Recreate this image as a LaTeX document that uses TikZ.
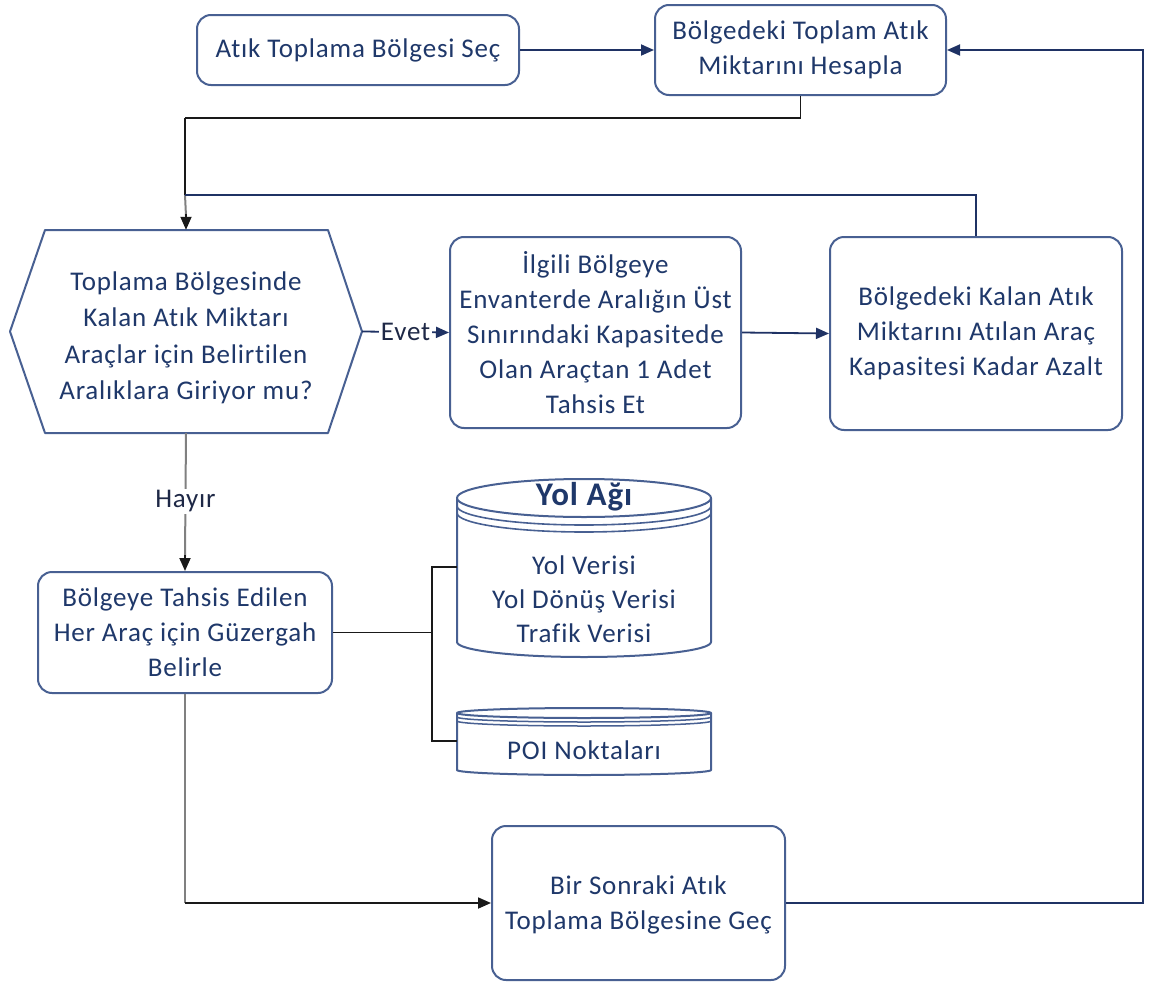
\documentclass[tikz,border=0pt]{standalone}
\usepackage{fontspec}
\setmainfont{Carlito}[LetterSpace=3, Ligatures=CommonOff]
\usetikzlibrary{arrows.meta}

\definecolor{edgeblue}{RGB}{72,96,146}
\definecolor{ink}{RGB}{31,56,106}
\definecolor{navy}{RGB}{31,50,100}
\definecolor{wire}{RGB}{25,25,25}
\definecolor{greywire}{RGB}{128,128,128}
\definecolor{labelink}{RGB}{30,40,70}

\tikzset{
  box/.style={draw=edgeblue, line width=2pt, rounded corners=14pt, align=center,
    text=ink, font=\fontsize{27}{35}\selectfont, inner sep=0pt},
  plaintext/.style={align=center, text=ink, font=\fontsize{27}{35}\selectfont, inner sep=0pt},
  shapeline/.style={draw=edgeblue, line width=2pt, line join=round},
  tip/.style={-{Triangle[length=13pt,width=11pt]}},
  navyline/.style={draw=navy, line width=1.8pt},
  blackline/.style={draw=wire, line width=1.8pt},
  greyline/.style={draw=greywire, line width=2pt},
  edgelabel/.style={fill=white, inner sep=1.5pt, text=labelink, font=\fontsize{27}{35}\selectfont}
}

\begin{document}
\begin{tikzpicture}[x=1pt,y=-1pt]
\useasboundingbox[fill=white] (0,0) rectangle (1152,985);

% process boxes
\node[box, minimum width=322pt, minimum height=70pt] (b1) at (358,50) {Atık Toplama Bölgesi Seç};
\node[box, minimum width=291pt, minimum height=90pt] (b2) at (800.5,50) {Bölgedeki Toplam Atık\\Miktarını Hesapla};
\node[box, minimum width=291pt, minimum height=191pt] (b3) at (595.5,332.5) {İlgili Bölgeye\\Envanterde Aralığın Üst\\Sınırındaki Kapasitede\\Olan Araçtan 1 Adet\\Tahsis Et};
\node[box, minimum width=292pt, minimum height=193pt] (b4) at (976,333.5) {Bölgedeki Kalan Atık\\Miktarını Atılan Araç\\Kapasitesi Kadar Azalt};
\node[box, minimum width=294pt, minimum height=121pt] (b5) at (185,632.5) {Bölgeye Tahsis Edilen\\Her Araç için Güzergah\\Belirle};
\node[box, minimum width=293pt, minimum height=154pt] (b6) at (638.5,903) {};
\node[plaintext] (b6text) at (638.5,905) {Bir Sonraki Atık\\Toplama Bölgesine Geç};

% decision hexagon
\draw[shapeline] (10,331.5) -- (45,230) -- (328,230) -- (362,331.5) -- (328,433) -- (45,433) -- cycle;
\node[minimum width=352pt, minimum height=203pt, inner sep=0pt] (hex) at (186,331.5) {};
\node[plaintext, font=\fontsize{27}{36.5}\selectfont] (hextext) at (186,338)
  {Toplama Bölgesinde\\Kalan Atık Miktarı\\Araçlar için Belirtilen\\Aralıklara Giriyor mu?};

% road network database
\fill[white] (457,498) -- (457,642) arc[start angle=180, end angle=360, x radius=127pt, y radius=15pt] -- (711,498) -- cycle;
\draw[shapeline] (457,498) -- (457,642) arc[start angle=180, end angle=360, x radius=127pt, y radius=15pt] -- (711,498);
\draw[shapeline, fill=white] (584,498) ellipse[x radius=127pt, y radius=19pt];
\draw[shapeline, line width=1.6pt] (457,506) arc[start angle=180, end angle=360, x radius=127pt, y radius=19pt];
\draw[shapeline, line width=1.6pt] (457,513) arc[start angle=180, end angle=360, x radius=127pt, y radius=19pt];
\node[plaintext, font=\bfseries\fontsize{33}{35}\selectfont] (yoltitle) at (584,497) {Yol Ağı};
\node[plaintext, font=\fontsize{27}{34}\selectfont] (yolbody) at (584,599) {Yol Verisi\\Yol Dönüş Verisi\\Trafik Verisi};

% POI database
\draw[shapeline, fill=white] (457,713) -- (457,770) arc[start angle=180, end angle=360, x radius=127pt, y radius=5pt] -- (711,713);
\draw[shapeline, fill=white] (584,713) ellipse[x radius=127pt, y radius=5pt];
\draw[shapeline, line width=1.5pt] (457,717) arc[start angle=180, end angle=360, x radius=127pt, y radius=5pt];
\draw[shapeline, line width=1.5pt] (457,721) arc[start angle=180, end angle=360, x radius=127pt, y radius=5pt];
\node[plaintext] (poi) at (584,750) {POI Noktaları};

% tap points on the database sides
\coordinate (cylA) at (457,567);
\coordinate (cylB) at (457,741);
\coordinate (t1) at (432,567);
\coordinate (t2) at (432,741);

% junctions of the routing lines
\coordinate (j1) at (185,118);
\coordinate (j2) at (185,195);
\coordinate (j4) at (1143,0);

% connectors
\draw[navyline, tip] (b1.east) -- (b2.west);
\draw[blackline] (b2.south) |- (j1);
\draw[blackline] (j1) -- (j2);
\draw[greyline] (j2) -- ([yshift=14pt]hex.north);
\draw[blackline, tip] ([yshift=16pt]hex.north) -- (hex.north);
\draw[navyline] (b4.north) |- (j2);
\draw[navyline, tip] (hex.east) -- (b3.west) node[edgelabel, midway] {Evet};
\draw[navyline, tip] (b3.east) -- (b4.west);
\draw[greyline] (hex.south) -- ([yshift=14pt]b5.north) node[edgelabel, pos=0.55] {Hayır};
\draw[blackline, tip] ([yshift=16pt]b5.north) -- (b5.north);
\draw[blackline] (b5.east) -- (b5.east -| t1);
\draw[blackline] (cylA) -- (t1) -- (t2) -- (cylB);
\draw[greyline] (b5.south) -- (b5.south |- b6.west);
\draw[blackline, tip] (b5.south |- b6.west) -- (b6.west);
\draw[navyline, tip] (b6.east) -| (j4 |- b2.east) -- (b2.east);

\end{tikzpicture}
\end{document}
